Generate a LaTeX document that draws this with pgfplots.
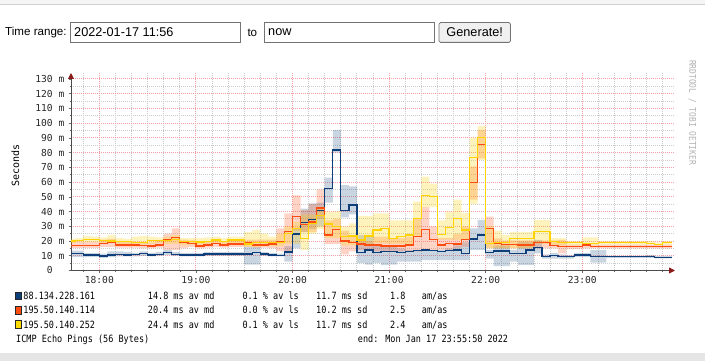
\documentclass[border=0pt]{standalone}
\usepackage{fontspec}
\setmainfont{Liberation Sans}
\newfontfamily\lgfont{DejaVu Sans Mono}[FakeStretch=0.85]
\newfontfamily\axfont{DejaVu Sans Mono}
\newfontfamily\rtfont{DejaVu Sans Mono}[FakeStretch=0.85]
\usepackage{pgfplots}
\pgfplotsset{compat=1.18}
\usepackage{pgfplotstable}
\usetikzlibrary{arrows.meta}
\definecolor{cB}{HTML}{0F3F7A}
\definecolor{cO}{HTML}{FF4D12}
\definecolor{cY}{HTML}{FFD200}
\definecolor{gmaj}{HTML}{F5A0A0}
\definecolor{gmin}{HTML}{CCCCCC}
\definecolor{arr}{HTML}{8B1A1A}
\pgfplotstableread{
t B BL BH O OL OH Y YL YH
-17.6 11.5 9 13.5 17.1 15.3 19.5 20 18.5 21.5
-15 11.5 9 13.5 17.1 15.3 19.5 20.5 19 22
-10 10.5 9 12 17.1 15.3 19.5 21 19 23.5
-5 10.5 9 12 17.1 15.3 19.5 21 19 23
0 9.8 8.5 11.5 18.3 16 21 20.2 18.5 22.5
5 10.5 9 13 18.8 16 21.5 20 18.5 24
10 11 9.5 13 17.3 15.5 19.5 19.8 18 22
15 10.5 9.5 12.5 17.3 15.5 19.5 19.5 18 21.5
20 11 9.5 12 17.3 15.5 19.5 19 17.5 23
25 11.7 10 13 16.8 15 19 19.2 17.5 23.5
30 10.5 9.5 12 16.6 15 19 20.5 18 23
35 11 10 12.5 17.3 15.5 20 20.5 18.5 22.5
40 12.3 10.5 14 20.7 14 25 20.5 18 23
45 11 10 12.5 22.3 14 28.6 21 18 24
50 10.5 9.5 12 18.9 15 21 19.5 17 22
55 10.5 9.5 12 18.4 16 20.5 19.6 17.5 22
60 10.5 9.5 12 16.6 15 19 19.3 17.5 22
65 11.2 10 12.5 17.3 15.5 19.5 19.6 17.5 22.5
70 11.2 10 12.5 18.4 16 20.5 20.7 18 23
75 11.2 10 12.5 17.3 15.5 19.5 19.6 17.5 22
80 11.2 10 12.5 18 16 20 20.7 18 23
85 11.2 10 12.5 18 16 20.5 20.7 18 23
90 11.2 4 16 18.9 16 21 18 16 26
95 12.1 4 16 17.3 15.5 21 18.9 16 27.5
100 11.2 10 12.5 17.3 15.5 21 18.9 16.5 25
105 10.5 9.5 12 18 15 21 18.9 16.5 23
110 10.3 9.5 11.5 19.6 13 28.6 18.9 16.5 25
115 12.6 6 16.5 26.4 13 38.8 25.2 18 30
120 24.7 15 29 36.6 27 51 28.6 18 33
125 32.7 26 42 31 26 41 21.6 14 38
130 34.6 28 45.6 33 26 45 32 25 38
135 40.8 30 46 42.5 35 55 37.4 28 42
140 55.8 46 63 24.1 18 34 31.5 22 40
145 81.8 80 95.4 27.9 18 35 30 22 40
150 40.8 36 58 20 11 27 23 17 30
155 44.5 38 57 19 13 24 23.4 17 32
160 12.3 5 24 18 14 20 20.7 17 37
165 13.9 4 24 17.3 14 20 23.5 17 37
170 12.1 5 17 17.3 13 23 27.5 18.4 38.8
175 12.8 3.7 17 16.6 13 23 28.6 18.4 38.8
180 12.8 4 16 16.6 13 22 21.8 18 34
185 12.1 6 15 16.6 13 22 23 18 34
190 12.8 6 14 17.3 13 23 24.1 18 34
195 13.5 6 14 23 13 35 35.4 23 46.7
200 13.9 7 14.5 28 14 43 51 43 63.7
205 13.5 7 14 21.2 14 30 50 43 59
210 12.8 7 14 17.3 14 22 24.6 21 34
215 13.5 7 15 18.4 14 22 29 21 40
220 13.9 7 17 18 15 25 35.4 21 48
225 11.6 7 19 21 16 30 27.5 21 39
230 21.3 14 28.6 59.9 48 70.5 76.7 45 90
235 24.1 14 34.3 85.7 76 95.4 90.3 75 98
240 12.3 8 14 28.6 15 36.6 18.5 15 30
245 13.2 3 17 18.4 15 21.8 19 15 27
250 13.2 3 17 17.8 15 20.5 19 15 24
255 11.7 6 14 17.8 15 20.5 21.5 15 26
260 11.7 3.7 19.6 17.3 15 20.5 21.5 15 26
265 13.9 3.7 19.6 17.3 15 20.5 21.5 15 26
270 15.7 11.7 20.7 19.1 15 20.5 26.5 18 34.3
275 9.4 8 11 19.1 15 20.5 26.5 18 34.3
280 10.1 8 12 16.9 15 20.5 19.6 17 22
285 9.4 8 11 16.2 11.6 20.7 19.1 17 22
290 9.4 8 10.5 16.2 14.5 17.5 19.1 17 20
295 10.5 9 12 16.2 14.5 17.5 19.1 17 20
300 10.5 9 12 17.3 15 18 18.4 17.3 22.5
305 9.4 5.3 13.9 16.2 15 17.5 18.4 17.3 22.5
310 9.4 5.3 13.9 16.2 15 17.5 19.1 17.5 20
315 9.4 8.5 10 16.2 15 17.5 19.1 17.5 20
320 9.4 8.5 10 16.2 15 17.5 19.1 17.5 20
325 9.4 8.5 10 16.2 15 17.5 19.1 17.5 20
330 9.4 8.5 10 16.2 15 17.5 19.1 17.5 20
335 9.4 8.5 10 16.2 15 17.5 19.1 17.5 20
340 9.4 8.5 10.5 16.2 15 17.5 18.4 17.5 20
345 9 8.3 10 16.2 15 17.5 17.8 17 19
350 9 8.3 10 16.2 15 17.5 18.9 17.5 20
355.8 9 8.3 10 16.2 15 17.5 18.9 17.5 20
}\data
\pgfplotsset{
  base/.style={at={(71pt,90.5pt)}, anchor=south west,
    scale only axis, width=604pt, height=197.5pt,
    xmin=-17.6, xmax=357.6, ymin=0, ymax=134},
  overlay/.style={base, hide axis, stack plots=y},
}
\begin{document}
\begin{tikzpicture}
\path[use as bounding box] (0pt,0pt) rectangle (705pt,361pt);
% page frame
\fill[black!4] (0pt,357pt) rectangle (705pt,361pt);
\draw[black!18,line width=0.8pt] (0pt,356.6pt) -- (705pt,356.6pt);
\fill[black!10] (0pt,0pt) rectangle (705pt,8pt);
% form
\node[anchor=west,inner sep=0,font=\fontsize{11.6}{13}\selectfont] at (5pt,328.4pt) {Time range:};
\draw[black!55,line width=0.8pt] (70.5pt,318.6pt) rectangle (240.5pt,338.4pt);
\node[anchor=west,inner sep=0,font=\fontsize{12.7}{14}\selectfont] at (74pt,328.4pt) {2022-01-17 11:56};
\node[anchor=west,inner sep=0,font=\fontsize{11.6}{13}\selectfont] at (247.3pt,328.4pt) {to};
\draw[black!55,line width=0.8pt] (264.3pt,318.6pt) rectangle (434pt,338.4pt);
\node[anchor=west,inner sep=0,font=\fontsize{12.7}{14}\selectfont] at (268pt,328.4pt) {now};
\draw[black!55,fill=black!6,line width=0.8pt,rounded corners=1.5pt] (439pt,318.6pt) rectangle (510.5pt,338.4pt);
\node[inner sep=0,font=\fontsize{12.7}{14}\selectfont] at (474.7pt,328.4pt) {Generate!};
% main axis: grid, ticks, blue band
\begin{axis}[
  base, stack plots=y,
  axis lines*=left,
  x axis line style={black!70, line width=0.9pt, -{Triangle[length=6pt,width=6pt,color=arr]}},
  y axis line style={black!70, line width=0.9pt, -{Triangle[length=6pt,width=6pt,color=arr]}},
  xtick={0,60,120,180,240,300},
  xticklabels={18:00,19:00,20:00,21:00,22:00,23:00},
  minor xtick={-10,10,20,30,40,50,70,80,90,100,110,130,140,150,160,170,190,200,210,220,230,250,260,270,280,290,310,320,330,340,350},
  ytick={0,10,...,130},
  minor ytick={5,15,...,125},
  tick align=outside, tick pos=left,
  major tick length=2.5pt, minor tick length=1.5pt,
  tick style={black!60, line width=0.6pt},
  grid=both,
  major grid style={draw=gmaj, line width=0.9pt, dash pattern=on 1pt off 1pt},
  minor grid style={draw=gmin, line width=0.9pt, dash pattern=on 1pt off 1pt},
  /pgf/number format/assume math mode=true,
  ticklabel style={font=\fontsize{9.6}{11}\axfont, text=black!85},
  xticklabel style={anchor=north, inner sep=0pt, yshift=-3pt},
  yticklabel style={anchor=east, inner sep=0pt, xshift=-4pt},
  yticklabel={\ifnum\ticknum=0 0\phantom{\ m}\else\pgfmathprintnumber{\tick}\ m\fi},
]
\addplot[const plot, draw=none] table[x=t,y=BL]{\data};
\addplot[const plot, draw=none, fill=cB, fill opacity=0.22] table[x=t,y expr=\thisrow{BH}-\thisrow{BL}]{\data} \closedcycle;
\end{axis}
\begin{axis}[overlay]
\addplot[const plot, draw=none] table[x=t,y=OL]{\data};
\addplot[const plot, draw=none, fill=cO, fill opacity=0.24] table[x=t,y expr=\thisrow{OH}-\thisrow{OL}]{\data} \closedcycle;
\end{axis}
\begin{axis}[overlay]
\addplot[const plot, draw=none] table[x=t,y=YL]{\data};
\addplot[const plot, draw=none, fill=cY, fill opacity=0.26] table[x=t,y expr=\thisrow{YH}-\thisrow{YL}]{\data} \closedcycle;
\end{axis}
\begin{axis}[base, hide axis]
\addplot[const plot, cB, line width=1.3pt] table[x=t,y=B]{\data};
\addplot[const plot, cO, line width=1.3pt] table[x=t,y=O]{\data};
\addplot[const plot, cY, line width=1.3pt] table[x=t,y=Y]{\data};
\end{axis}
% y label and side text
\node[rotate=90,inner sep=0,font=\fontsize{10}{12}\axfont] at (15.5pt,195.3pt) {Seconds};
\node[rotate=-90,anchor=west,inner sep=0,font=\fontsize{9.3}{11}\rtfont,text=black!30] at (692.5pt,301pt) {RRDTOOL / TOBI OETIKER};
% legend
\begin{scope}[every node/.style={anchor=base west,inner sep=0,font=\fontsize{10}{12}\lgfont}]
\filldraw[fill=cB,draw=black!85,line width=0.7pt] (15.3pt,61.2pt) rectangle (21.8pt,68.8pt);
\filldraw[fill=cO,draw=black!85,line width=0.7pt] (15.3pt,46.9pt) rectangle (21.8pt,54.5pt);
\filldraw[fill=cY!80!yellow,draw=black!85,line width=0.7pt] (15.3pt,32.6pt) rectangle (21.8pt,40.2pt);
\node at (23.2pt,61.5pt) {88.134.228.161};
\node at (23.2pt,47.2pt) {195.50.140.114};
\node at (23.2pt,32.9pt) {195.50.140.252};
\node at (147.7pt,61.5pt) {14.8 ms av md};
\node at (147.7pt,47.2pt) {20.4 ms av md};
\node at (147.7pt,32.9pt) {24.4 ms av md};
\node at (242.3pt,61.5pt) {0.1 \% av ls};
\node at (242.3pt,47.2pt) {0.0 \% av ls};
\node at (242.3pt,32.9pt) {0.1 \% av ls};
\node at (316pt,61.5pt) {11.7 ms sd};
\node at (316pt,47.2pt) {10.2 ms sd};
\node at (316pt,32.9pt) {11.7 ms sd};
\node at (390pt,61.5pt) {1.8};
\node at (390pt,47.2pt) {2.5};
\node at (390pt,32.9pt) {2.4};
\node at (421.7pt,61.5pt) {am/as};
\node at (421.7pt,47.2pt) {am/as};
\node at (421.7pt,32.9pt) {am/as};
\node at (16pt,18.9pt) {ICMP Echo Pings (56 Bytes)};
\node[anchor=base east] at (508.3pt,18.9pt) {end: Mon Jan 17 23:55:50 2022};
\end{scope}
\end{tikzpicture}
\end{document}
